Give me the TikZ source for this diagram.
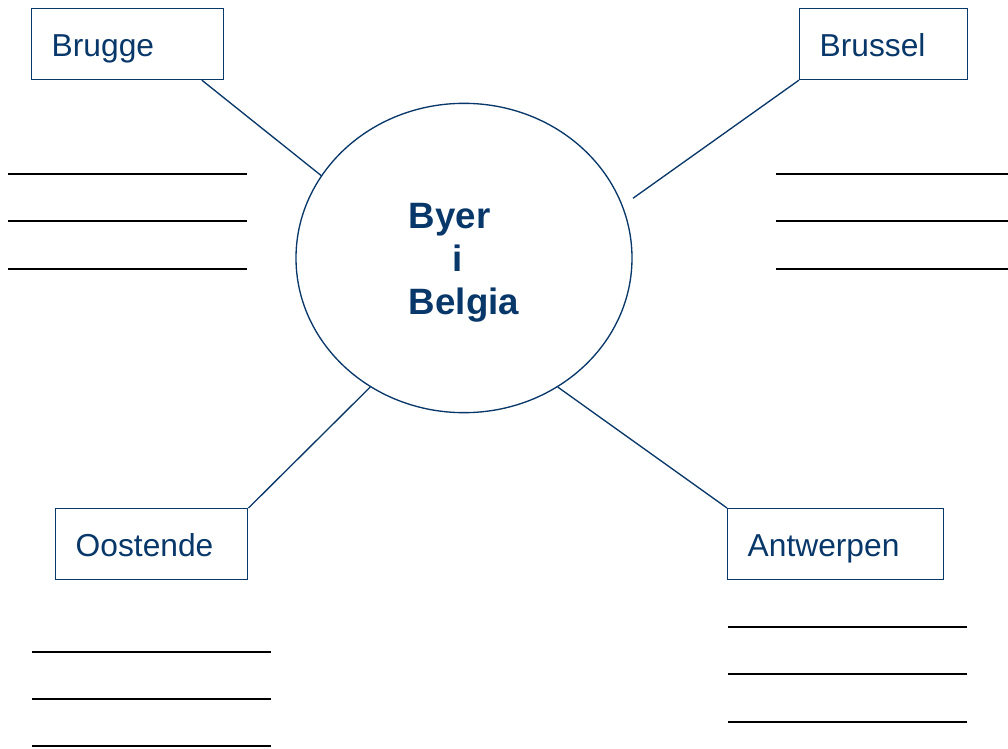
\documentclass[tikz,border=0pt]{standalone}
\usepackage{fontspec}
\setmainfont{Liberation Sans}
\usetikzlibrary{shapes.geometric}
\usetikzlibrary{positioning}
\definecolor{dkblue}{RGB}{8,55,105}

\tikzset{
    citybox/.style={draw=dkblue, line width=1.1pt, text=dkblue, minimum height=53pt,
        inner xsep=15pt, align=left, anchor=north west, text height=22pt, text depth=3pt,
        font=\fontsize{23.8}{28}\selectfont},
    hub/.style={ellipse, draw=dkblue, line width=1pt, text=dkblue, minimum width=252pt,
        minimum height=232pt, align=left, font=\fontsize{27.5}{32}\selectfont\bfseries},
    link/.style={dkblue, line width=1pt},
    wline/.style={black, line width=1.1pt}
}

\begin{document}
\begin{tikzpicture}[x=0.75pt, y=-0.75pt]

    \useasboundingbox (0,0) rectangle (1008,749);

    % center ellipse
    \node[hub] (byer) at (464,258) {\rule{0pt}{26pt}Byer\\\hspace{32.5pt}i\\Belgia};

    % the four cities
    \node[citybox, text width=114pt] (brugge) at (31,8) {Brugge};
    \node[citybox, text width=96pt] (brussel) at (799,8) {Brussel};
    \node[citybox, text width=114pt] (oostende) at (55,508) {Oostende};
    \node[citybox, text width=132pt] (antwerpen) at (727,508) {Antwerpen};

    % connectors
    \coordinate (bruggeend) at ([xshift=-17pt]brugge.south east);
    \coordinate (brusselend) at ([xshift=10pt]byer.21);
    \draw[link] (bruggeend) -- (byer.150);
    \draw[link] (brussel.south west) -- (brusselend);
    \draw[link] (oostende.north east) -- (byer.234);
    \draw[link] (antwerpen.north west) -- (byer.306);

    % lines to write on
    \foreach \y in {174,221,269}{
        \draw[wline] (8,\y) -- (247,\y);
        \draw[wline] (776,\y) -- (1008,\y);
    }
    \foreach \y in {652,699,746}{
        \draw[wline] (32,\y) -- (271,\y);
    }
    \foreach \y in {627,674,722}{
        \draw[wline] (728,\y) -- (967,\y);
    }

\end{tikzpicture}
\end{document}
